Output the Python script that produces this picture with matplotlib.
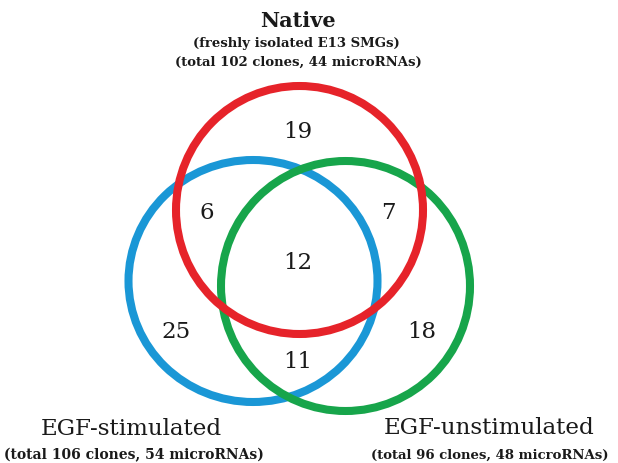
import matplotlib
matplotlib.use("Agg")
import matplotlib.pyplot as plt
from matplotlib.patches import Ellipse

# Data
set_names = ["Native", "EGF-stimulated", "EGF-unstimulated"]
set_details = [
    ["(freshly isolated E13 SMGs)", "(total 102 clones, 44 microRNAs)"],
    ["(total 106 clones, 54 microRNAs)"],
    ["(total 96 clones, 48 microRNAs)"],
]
region_labels = ["N only", "N&S", "N&U", "N&S&U", "S only", "U only", "S&U"]
region_counts = [19, 6, 7, 12, 25, 18, 11]

fig = plt.figure(figsize=(6.18, 4.63), dpi=100)
ax = fig.add_axes([0, 0, 1, 1])
ax.set_xlim(0, 618)
ax.set_ylim(463, 0)
ax.axis("off")

serif = ["DejaVu Serif"]
tc = "#1a1a1a"

# (center, half-width, half-height, colour) in pixel space
circles = [
    ((253, 281), 124.5, 121, "#1a97d6"),
    ((345.5, 286), 124.5, 125, "#17a54b"),
    ((299.5, 210), 123.5, 124, "#e6232a"),
]
for c, rx, ry, col in circles:
    ax.add_patch(Ellipse(c, 2 * rx, 2 * ry, fill=False, ec=col, lw=5.8))

pos = [(298, 132), (207, 213), (388, 213), (298, 263), (176, 332), (422, 332), (298, 362)]
for (x, y), v in zip(pos, region_counts):
    ax.text(x, y, str(v), fontsize=16.5, family=serif, ha="center", va="center", color=tc)

ax.text(298, 21, set_names[0], fontsize=15, family=serif, weight="bold", ha="center", va="center", color=tc)
ax.text(296, 43, set_details[0][0], fontsize=9.5, family=serif, weight="bold", ha="center", va="center", color=tc)
ax.text(298, 62, set_details[0][1], fontsize=9.5, family=serif, weight="bold", ha="center", va="center", color=tc)

ax.text(131, 429, set_names[1], fontsize=16.6, family=serif, ha="center", va="center", color=tc)
ax.text(134, 455, set_details[1][0], fontsize=10, family=serif, weight="bold", ha="center", va="center", color=tc)

ax.text(489, 428, set_names[2], fontsize=16.6, family=serif, ha="center", va="center", color=tc)
ax.text(490, 455, set_details[2][0], fontsize=9.5, family=serif, weight="bold", ha="center", va="center", color=tc)

fig.savefig("out.png", dpi=100, facecolor="white")
